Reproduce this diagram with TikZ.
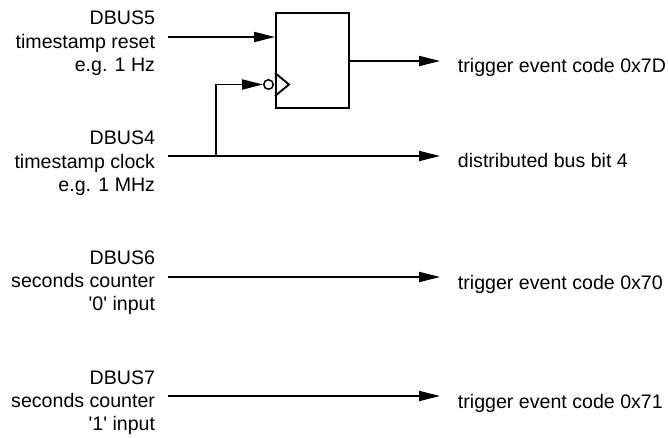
\documentclass[tikz,border=0pt]{standalone}
\usepackage{fontspec}
\setmainfont{Liberation Sans}
\usetikzlibrary{arrows.meta}
\begin{document}
\begin{tikzpicture}[>={Triangle[length=21pt,width=10pt]},x=1pt,y=-1pt,line width=1.9pt,
	lbl/.style={inner sep=0pt,align=right,anchor=base east,font=\fontsize{19.6}{23.3}\selectfont},
	evt/.style={inner sep=0pt,anchor=base west,font=\fontsize{19.6}{23.3}\selectfont}]
			\useasboundingbox (0,0) rectangle (668,438);
			% flip-flop
			\node[draw,minimum width=73pt,minimum height=95pt,inner sep=0pt] (ff) at (312.5,60.5) {};
			\draw (ff.west |- 0,73) -- (289,84.5) -- (ff.west |- 0,96);
			\node[circle,draw,line width=1.5pt,minimum size=9.5pt,inner sep=0pt] (bub) at (268.5,84.5) {};
			% inputs (base = last line)
			\node[lbl] (dbus5) at (156,71.6) {DBUS5\\timestamp reset\\e.g. 1 Hz};
			\node[lbl] (dbus4) at (156,191.6) {DBUS4\\timestamp clock\\e.g. 1 MHz};
			\node[lbl] (dbus6) at (156,310.6) {DBUS6\\seconds counter\\\textquotesingle 0\textquotesingle\ input};
			\node[lbl] (dbus7) at (156,430.6) {DBUS7\\seconds counter\\\textquotesingle 1\textquotesingle\ input};
			% outputs
			\node[evt] (evt7d) at (457,73) {trigger event code 0x7D};
			\node[evt] (bit4) at (457,168) {distributed bus bit 4};
			\node[evt] (evt70) at (457,289) {trigger event code 0x70};
			\node[evt] (evt71) at (457,408) {trigger event code 0x71};
			\coordinate (in5) at (168,37);
			\coordinate (in4) at (168,156);
			\coordinate (br4) at (216,156);
			\coordinate (in6) at (168,277);
			\coordinate (in7) at (168,396);
			\draw[->] (in5) -- (in5 -| ff.west);
			\draw[->] (br4) |- (bub);
			\draw[->] (ff.east |- 0,61) -- (440,61);
			\draw[->] (in4) -- (440,156);
			\draw[->] (in6) -- (440,277);
			\draw[->] (in7) -- (440,396);
		\end{tikzpicture}
\end{document}
